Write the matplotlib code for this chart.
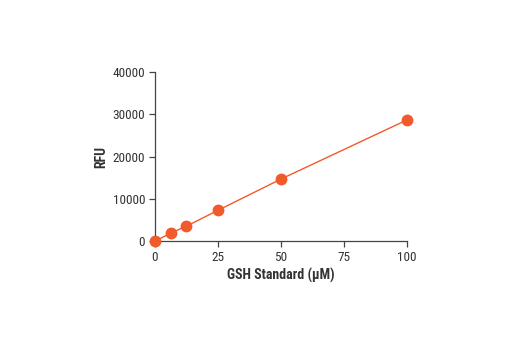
import matplotlib
matplotlib.use("Agg")
import matplotlib.pyplot as plt

plt.rcParams['font.family'] = ['Roboto Condensed', 'DejaVu Sans']

conc = [0, 6.25, 12.5, 25, 50, 100]
rfu = [0, 1900, 3550, 7300, 14700, 28700]
xticks = [0, 25, 50, 75, 100]
yticks = [0, 10000, 20000, 30000, 40000]

color = "#F15A2B"
fig = plt.figure(figsize=(5.2, 3.5), dpi=100)
ax = fig.add_axes([0.298, 0.311, 0.485, 0.483])
ax.plot(conc, rfu, color=color, lw=1, marker='o', ms=7.5, mec=color, mfc=color, clip_on=False, zorder=3)
ax.set_xlim(0, 100)
ax.set_ylim(0, 40000)
ax.set_xticks(xticks)
ax.set_yticks(yticks)
for s in ['top', 'right']:
    ax.spines[s].set_visible(False)
for s in ['left', 'bottom']:
    ax.spines[s].set_color('#444444')
    ax.spines[s].set_linewidth(0.9)
ax.tick_params(colors='#444444', labelcolor='#333333', labelsize=9.5, length=4, width=0.9, direction='out', pad=3)
ax.set_xlabel("GSH Standard (µM)", fontsize=10, fontweight='bold', color='#333333', labelpad=3)
ax.set_ylabel("RFU", fontsize=10, fontweight='bold', color='#333333', labelpad=3)
fig.savefig("out.png", dpi=100)
